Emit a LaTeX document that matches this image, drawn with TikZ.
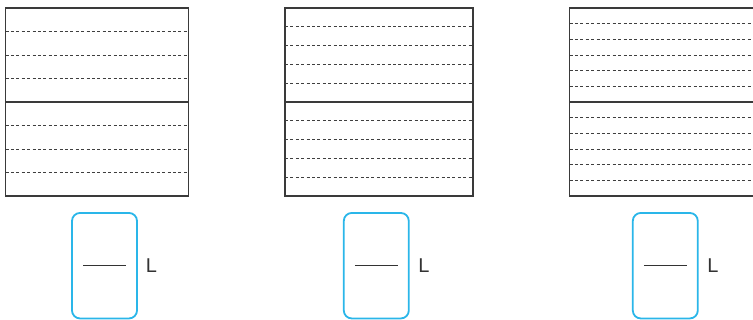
\documentclass[tikz,border=0pt]{standalone}
\usepackage{fontspec}
\setmainfont{Liberation Sans}
\definecolor{framegray}{HTML}{3A3A3A}
\definecolor{dashgray}{HTML}{3F3F3F}
\definecolor{cardblue}{HTML}{2AB6E9}
\definecolor{textgray}{HTML}{333333}
\tikzset{
  frame/.style={draw=framegray, line width=1.8pt},
  guide/.style={draw=dashgray, line width=0.9pt, dash pattern=on 3pt off 2.4pt},
  cardbox/.style={draw=cardblue, line width=1.8pt, rounded corners=8pt, minimum width=65pt, minimum height=105.5pt, inner sep=0pt},
  blank/.style={draw=textgray, line width=1.5pt},
  unit/.style={text=textgray, font=\fontsize{20pt}{24pt}\selectfont, inner sep=0pt}
}
\begin{document}
\begin{tikzpicture}[x=1pt,y=-1pt]
\useasboundingbox (0,0) rectangle (753,320);
\clip (0,0) rectangle (753,320);
% containers: left x, right x, number of parts per half
\foreach \xl/\xr/\n in {5.5/188.5/4, 285/473/5, 569.5/760/6}{
  \draw[frame] (\xl,8) rectangle (\xr,196);
  \draw[frame] (\xl,102) -- (\xr,102);
  \pgfmathtruncatemacro{\m}{\n-1}
  \foreach \k in {1,...,\m}{
    \draw[guide] (\xl,{8+94*\k/\n}) -- (\xr,{8+94*\k/\n});
    \draw[guide] (\xl,{102+94*\k/\n}) -- (\xr,{102+94*\k/\n});
  }
}
% answer cards
\node[cardbox] (c1) at (104.5,265.7) {};
\node[cardbox] (c2) at (376.3,265.7) {};
\node[cardbox] (c3) at (665.3,265.7) {};
\draw[blank] ([xshift=-21.5pt]c1.center) -- ([xshift=21.5pt]c1.center);
\draw[blank] ([xshift=-21.5pt]c2.center) -- ([xshift=21.5pt]c2.center);
\draw[blank] ([xshift=-21.5pt]c3.center) -- ([xshift=21.5pt]c3.center);
\node[unit] (u1) at (151.5,265.3) {L};
\node[unit] (u2) at (424,265.3) {L};
\node[unit] (u3) at (713,265.3) {L};
\end{tikzpicture}
\end{document}
